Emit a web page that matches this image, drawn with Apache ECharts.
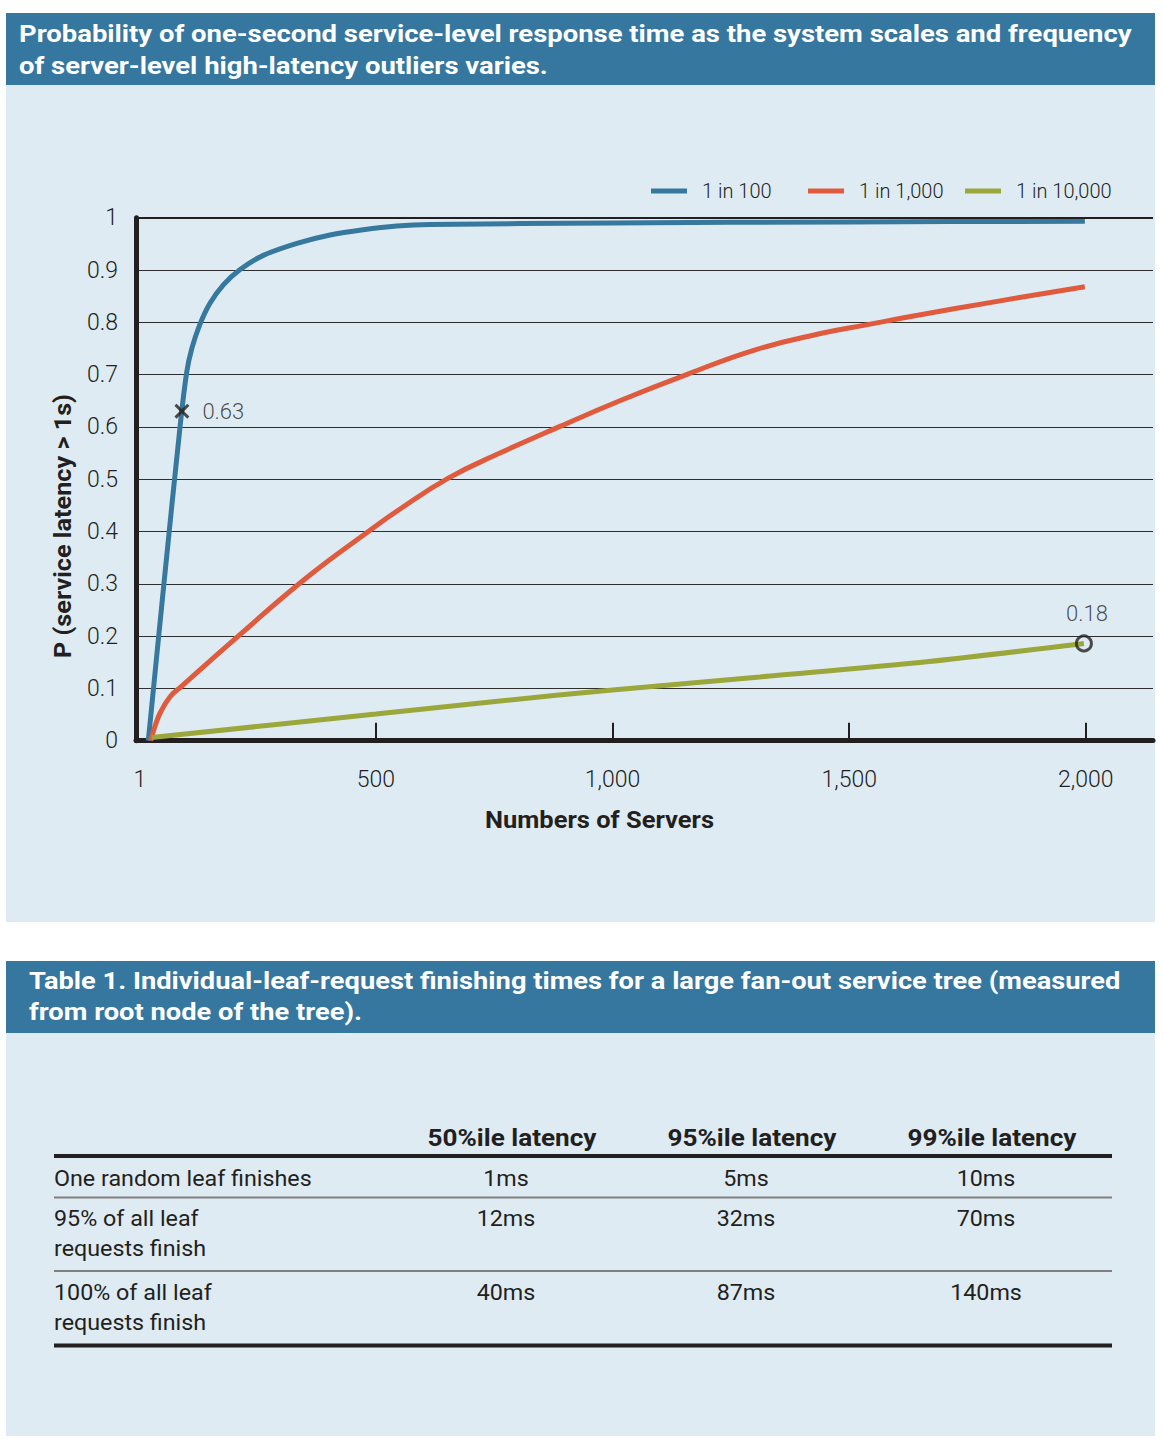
<!DOCTYPE html>
<html>
<head>
<meta charset="utf-8">
<script src="https://cdn.jsdelivr.net/npm/echarts@6.0.0/dist/echarts.min.js"></script>
<style>
html,body{margin:0;padding:0;background:#ffffff;}
#chart{width:1164px;height:1448px;}
</style>
</head>
<body>
<div id="chart"></div>
<script>
// ---------------- DATA ----------------
const chartTitle = [
  'Probability of one-second service-level response time as the system scales and frequency',
  'of server-level high-latency outliers varies.'
];
const xAxisTitle = 'Numbers of Servers';
const yAxisTitle = 'P (service latency > 1s)';
const seriesNames = ['1 in 100', '1 in 1,000', '1 in 10,000'];
const xTickLabels = [1, 500, 1000, 1500, 2000];
const xTickMarks = [500, 1000, 1500, 2000];

// 1 in 100
const servers100 = [19, 52, 86, 100, 111, 128, 149, 178, 213, 262, 333, 403, 473, 544, 614, 1000, 1500, 1998];
const prob100    = [0, 0.3, 0.6, 0.704, 0.75, 0.796, 0.836, 0.872, 0.901, 0.928, 0.951, 0.967, 0.977, 0.984, 0.987, 0.990, 0.992, 0.993];
// 1 in 1,000
const servers1000 = [24, 34, 44, 65, 88, 209, 354, 484, 551, 653, 762, 889, 1018, 1159, 1300, 1442, 1536, 1630, 1819, 1998];
const prob1000    = [0, 0.03, 0.053, 0.084, 0.103, 0.2, 0.312, 0.4, 0.443, 0.502, 0.55, 0.601, 0.651, 0.701, 0.747, 0.779, 0.795, 0.811, 0.841, 0.868];
// 1 in 10,000
const servers10000 = [26, 500, 762, 1000, 1311, 1664, 1996];
const prob10000    = [0.006, 0.051, 0.076, 0.097, 0.122, 0.151, 0.186];

// annotations
const crossPoint = [90, 0.63];
const crossLabel = '0.63';
const circlePoint = [1996, 0.186];
const circleLabel = '0.18';

// table
const tableTitle = [
  'Table 1. Individual-leaf-request finishing times for a large fan-out service tree (measured',
  'from root node of the tree).'
];
const tableColumns = ['50%ile latency', '95%ile latency', '99%ile latency'];
const tableRows = ['One random leaf finishes', '95% of all leaf\nrequests finish', '100% of all leaf\nrequests finish'];
const latency50 = ['1ms', '12ms', '40ms'];
const latency95 = ['5ms', '32ms', '87ms'];
const latency99 = ['10ms', '70ms', '140ms'];

// ---------------- STYLE ----------------
const COLORS = ['#37789f', '#e05b3d', '#9ba73a'];
const INK = '#231f20';
const HEADER_BG = '#35779f';
const PANEL_BG = '#dfebf3';
const FONT = 'Roboto, "Noto Sans", sans-serif';

const zip = (xs, ys) => xs.map((x, i) => [x, ys[i]]);

const mctx = document.createElement('canvas').getContext('2d');
function fitScale(text, font, target) {
  mctx.font = font;
  const w = mctx.measureText(text).width;
  return w > 0 ? target / w : 1;
}

const titleFont = 'bold 24px Roboto';
const titleScale = fitScale(chartTitle[0], titleFont, 1113);
const tableTitleScale = fitScale(tableTitle[0], titleFont, 1092);
const axisTitleFont = 'bold 24px Roboto';
const yTitleScale = fitScale(yAxisTitle, axisTitleFont, 264);
const xTitleScale = fitScale(xAxisTitle, axisTitleFont, 229);
const colFont = 'bold 23px Roboto';
const colScale = fitScale(tableColumns[0], colFont, 169);
const bodyFont = '400 22px Roboto';
const bodyScale = fitScale(tableRows[0], bodyFont, 258);

const graphics = [];
// panels
graphics.push({type: 'rect', z: -20, shape: {x: 6, y: 13, width: 1149, height: 72}, style: {fill: HEADER_BG}});
graphics.push({type: 'rect', z: -20, shape: {x: 6, y: 85, width: 1149, height: 837}, style: {fill: PANEL_BG}});
graphics.push({type: 'rect', z: -20, shape: {x: 6, y: 961, width: 1149, height: 72}, style: {fill: HEADER_BG}});
graphics.push({type: 'rect', z: -20, shape: {x: 6, y: 1033, width: 1149, height: 403}, style: {fill: PANEL_BG}});
// header titles
chartTitle.forEach((t, i) => graphics.push({
  type: 'text', z: 10, x: 19, y: 34 + i * 32, scaleX: titleScale,
  style: {text: t, font: titleFont, fill: '#ffffff', align: 'left', verticalAlign: 'middle'}
}));
tableTitle.forEach((t, i) => graphics.push({
  type: 'text', z: 10, x: 29, y: 981 + i * 31, scaleX: tableTitleScale,
  style: {text: t, font: titleFont, fill: '#ffffff', align: 'left', verticalAlign: 'middle'}
}));
// axis titles
graphics.push({
  type: 'text', z: 10, x: 63, y: 526, rotation: Math.PI / 2, scaleX: yTitleScale,
  style: {text: yAxisTitle, font: axisTitleFont, fill: INK, align: 'center', verticalAlign: 'middle'}
});
graphics.push({
  type: 'text', z: 10, x: 599.5, y: 820, scaleX: xTitleScale,
  style: {text: xAxisTitle, font: axisTitleFont, fill: INK, align: 'center', verticalAlign: 'middle'}
});

// table
const tLeft = 54, tRight = 1112;
const headerCenters = [512, 752, 992];
const valueCenters = [506, 746, 986];
const rowTops = [1164, 1204, 1278];
tableColumns.forEach((c, i) => graphics.push({
  type: 'text', z: 10, x: headerCenters[i], y: 1138, scaleX: colScale,
  style: {text: c, font: colFont, fill: INK, align: 'center', verticalAlign: 'middle'}
}));
const valueCols = [latency50, latency95, latency99];
tableRows.forEach((r, ri) => {
  graphics.push({
    type: 'text', z: 10, x: tLeft, y: rowTops[ri], scaleX: bodyScale,
    style: {text: r, fontFamily: 'Roboto', fontSize: 22, fontWeight: 400, lineHeight: 30, fill: INK, align: 'left', verticalAlign: 'top'}
  });
  valueCols.forEach((col, ci) => graphics.push({
    type: 'text', z: 10, x: valueCenters[ci], y: rowTops[ri], scaleX: bodyScale,
    style: {text: col[ri], fontFamily: 'Roboto', fontSize: 22, fontWeight: 400, lineHeight: 30, fill: INK, align: 'center', verticalAlign: 'top'}
  }));
});
[[1156, 4, INK], [1197.5, 2, '#808080'], [1271, 2, '#808080'], [1345.5, 4, INK]].forEach(([y, w, c]) => graphics.push({
  type: 'line', z: 5, shape: {x1: tLeft, y1: y, x2: tRight, y2: y}, style: {stroke: c, lineWidth: w}
}));

const xPath = 'path://M0,2L2,0L7,5L12,0L14,2L9,7L14,12L12,14L7,9L2,14L0,12L5,7Z';

const labelText = {fontFamily: FONT, fontWeight: 300, color: INK};

const option = {
  animation: false,
  backgroundColor: 'transparent',
  graphic: {elements: graphics},
  grid: {left: 136, right: 11, top: 217.7, bottom: 707.3, containLabel: false, outerBoundsMode: 'none'},
  legend: seriesNames.map((n, i) => ({
    data: [n], left: [651, 808, 965][i], top: 181, padding: 0, itemGap: 0,
    icon: 'rect', itemWidth: 36, itemHeight: 5, selectedMode: false,
    textStyle: Object.assign({fontSize: 20, padding: [0, 0, 0, 10]}, labelText)
  })),
  xAxis: {
    type: 'value', min: -7, max: 2142,
    axisLine: {show: true, onZero: true, lineStyle: {color: INK, width: 5}},
    axisTick: {show: true, inside: true, length: 18, customValues: xTickMarks, lineStyle: {color: INK, width: 2}},
    axisLabel: Object.assign({
      customValues: xTickLabels, margin: 27, fontSize: 23,
      formatter: v => Number(v).toLocaleString('en-US')
    }, labelText),
    splitLine: {show: false}
  },
  yAxis: {
    type: 'value', min: 0, max: 1, interval: 0.1,
    axisLine: {show: true, onZero: false, lineStyle: {color: INK, width: 5}},
    axisTick: {show: false},
    axisLabel: Object.assign({margin: 18, fontSize: 23, formatter: v => String(+v.toFixed(1))}, labelText),
    splitLine: {show: true, lineStyle: {color: '#2e2e2e', width: 1}}
  },
  series: [
    {name: seriesNames[0], type: 'line', data: zip(servers100, prob100), symbol: 'none', smooth: 0.3, lineStyle: {width: 5, color: COLORS[0]}, itemStyle: {color: COLORS[0]}, z: 3,
      markLine: {silent: true, symbol: 'none', label: {show: false}, lineStyle: {color: INK, width: 2, type: 'solid'}, data: [{yAxis: 1}]}},
    {name: seriesNames[1], type: 'line', data: zip(servers1000, prob1000), symbol: 'none', smooth: 0.45, lineStyle: {width: 5, color: COLORS[1]}, itemStyle: {color: COLORS[1]}, z: 3},
    {name: seriesNames[2], type: 'line', data: zip(servers10000, prob10000), symbol: 'none', smooth: 0.3, lineStyle: {width: 5, color: COLORS[2]}, itemStyle: {color: COLORS[2]}, z: 3},
    {type: 'scatter', data: [crossPoint], symbol: xPath, symbolSize: 15, itemStyle: {color: INK}, z: 6,
      label: Object.assign({show: true, position: 'right', distance: 13, fontSize: 22, formatter: () => crossLabel}, labelText)},
    {type: 'scatter', data: [circlePoint], symbol: 'circle', symbolSize: 15, itemStyle: {color: 'rgba(0,0,0,0)', borderColor: INK, borderWidth: 3}, z: 6,
      label: Object.assign({show: true, position: 'top', distance: 10, offset: [3, 0], fontSize: 22, formatter: () => circleLabel}, labelText)}
  ]
};

const chart = echarts.init(document.getElementById('chart'), null, {renderer: 'svg', width: 1164, height: 1448});
chart.setOption(option);
</script>
</body>
</html>
